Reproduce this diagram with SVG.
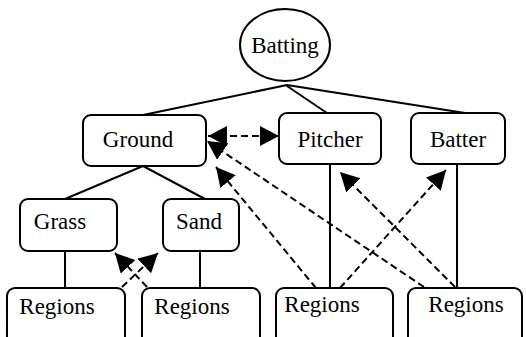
<svg xmlns="http://www.w3.org/2000/svg" width="526" height="337" viewBox="0 0 526 337">
<style>
.box{fill:#fff;stroke:#000;stroke-width:2}
.t{font-family:"Liberation Serif",serif;font-size:23px;fill:#000;text-anchor:middle}
.tree{stroke:#000;stroke-width:2;fill:none}
.dash{stroke:#000;stroke-width:2;fill:none;stroke-dasharray:7 4}
</style>
<defs>
<marker id="ah" markerUnits="userSpaceOnUse" markerWidth="22" markerHeight="22" refX="19" refY="10" orient="auto">
<path d="M0,0 L19,10 L0,20 Z" fill="#000"/>
</marker>
<marker id="ahs" markerUnits="userSpaceOnUse" markerWidth="22" markerHeight="22" refX="19" refY="10" orient="auto-start-reverse">
<path d="M0,0 L19,10 L0,20 Z" fill="#000"/>
</marker>
</defs>
<rect width="526" height="337" fill="#fff"/>
<g id="connectors">
<path class="tree" d="M287,85 L143,115 M287,86 L327,113 M287,85 L465,113"/>
<path class="tree" d="M143,166 L65,199 M143,166 L205,199"/>
<path class="tree" d="M65,251 L65,288 M200,251 L200,288 M330,164 L330,288 M457,164 L457,288"/>
<path class="dash" d="M208,136 L279,136" marker-start="url(#ahs)" marker-end="url(#ah)"/>
<path class="dash" d="M316,288 L216,167" marker-end="url(#ah)"/>
<path class="dash" d="M424,287 L207,141" marker-end="url(#ah)"/>
<path class="dash" d="M455,287 L340,172" marker-end="url(#ah)"/>
<path class="dash" d="M340,288 L446,170" marker-end="url(#ah)"/>
<path class="dash" d="M122,287 L158,253" marker-end="url(#ah)"/>
<path class="dash" d="M147,287 L115,253" marker-end="url(#ah)"/>
</g>
<g id="batting"><ellipse class="box" cx="285" cy="45" rx="45" ry="36"/><text class="t" x="285" y="53">Batting</text></g>
<g id="ground"><rect class="box" x="83" y="115" width="123" height="51" rx="8"/><text class="t" x="138" y="147">Ground</text></g>
<g id="pitcher"><rect class="box" x="279" y="113" width="102" height="51" rx="8"/><text class="t" x="330" y="147">Pitcher</text></g>
<g id="batter"><rect class="box" x="411" y="113" width="94" height="51" rx="8"/><text class="t" x="458" y="147">Batter</text></g>
<g id="grass"><rect class="box" x="20" y="199" width="97" height="52" rx="8"/><text class="t" x="60" y="229">Grass</text></g>
<g id="sand"><rect class="box" x="163" y="199" width="76" height="52" rx="8"/><text class="t" x="199" y="229">Sand</text></g>
<g id="regions1"><rect class="box" x="7" y="288" width="118" height="60" rx="8"/><text class="t" x="57" y="314">Regions</text></g>
<g id="regions2"><rect class="box" x="142" y="288" width="118" height="60" rx="8"/><text class="t" x="192" y="314">Regions</text></g>
<g id="regions3"><rect class="box" x="276" y="288" width="117" height="60" rx="8"/><text class="t" x="322" y="312">Regions</text></g>
<g id="regions4"><rect class="box" x="408" y="288" width="114" height="60" rx="8"/><text class="t" x="466" y="312">Regions</text></g>
</svg>
